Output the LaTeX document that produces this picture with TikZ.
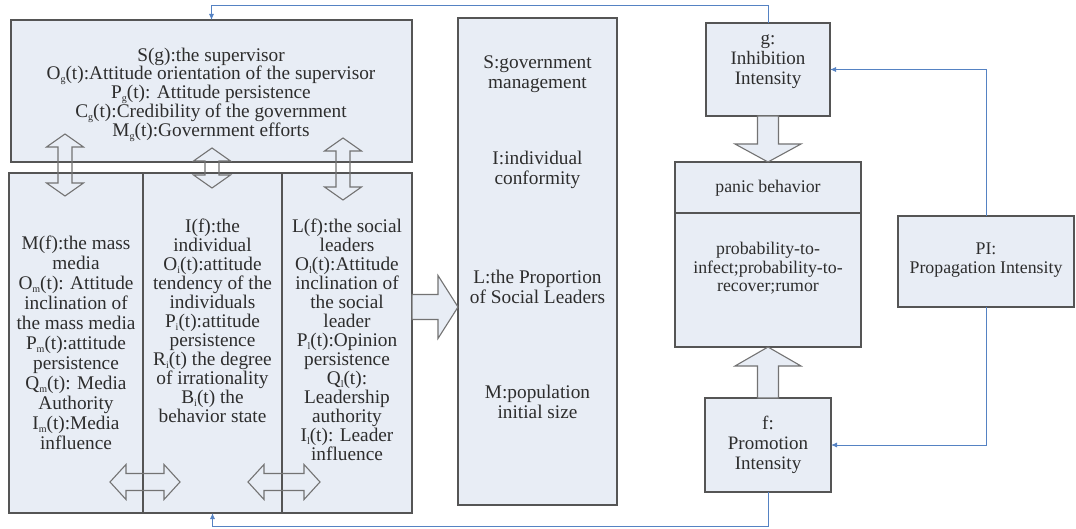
\documentclass[tikz,border=0pt]{standalone}
\usepackage{fontspec}
\setmainfont{Liberation Serif}
\usetikzlibrary{arrows.meta,calc}
\definecolor{boxfill}{RGB}{232,237,245}
\definecolor{boxline}{RGB}{85,85,85}
\definecolor{arrline}{RGB}{115,115,115}
\definecolor{connblue}{RGB}{85,130,195}
\definecolor{txtcol}{RGB}{45,45,45}
\newcommand{\sbs}[1]{\raisebox{-0.15em}{\fontsize{10}{10}\selectfont #1}}
\newcommand{\vdarr}[3]{%
  \draw[barrow] (#1-7,#2+13) -- (#1-18.5,#2+13) -- (#1,#2) -- (#1+18.5,#2+13) -- (#1+7,#2+13)
    -- (#1+7,#3-13) -- (#1+18.5,#3-13) -- (#1,#3) -- (#1-18.5,#3-13) -- (#1-7,#3-13) -- cycle;}
\newcommand{\hdarr}[3]{%
  \draw[barrow] (#1+16,#3-8.5) -- (#1+16,#3-17.5) -- (#1,#3) -- (#1+16,#3+17.5) -- (#1+16,#3+8.5)
    -- (#2-16,#3+8.5) -- (#2-16,#3+17.5) -- (#2,#3) -- (#2-16,#3-17.5) -- (#2-16,#3-8.5) -- cycle;}
\begin{document}
\lineskiplimit=-100pt
\begin{tikzpicture}[x=1pt,y=-1pt,
  box/.style={draw=boxline, fill=boxfill, line width=1.1pt, inner sep=0pt, outer sep=0pt},
  txt/.style={align=center, inner sep=0pt, text=txtcol, font=\fontsize{19.3}{19.5}\selectfont},
  txtr/.style={align=center, inner sep=0pt, text=txtcol, font=\fontsize{17.8}{18.5}\selectfont},
  barrow/.style={draw=arrline, line width=1.1pt, line join=miter},
  sarrow/.style={draw=arrline, fill=boxfill, line width=1.1pt, line join=miter},
  conn/.style={draw=connblue, line width=0.9pt, -{Latex[length=6pt,width=5pt]}}
]
\useasboundingbox (0,0) rectangle (1076,529);
\fill[white] (0,0) rectangle (1076,529);

% boxes
\node[box, minimum width=401pt, minimum height=142pt] (S) at (211.5,91) {};
\node[box, minimum width=134pt, minimum height=340pt] (col1) at (76,343) {};
\node[box, minimum width=139pt, minimum height=340pt] (col2) at (212.5,343) {};
\node[box, minimum width=130pt, minimum height=340pt] (col3) at (347,343) {};
\node[box, minimum width=159pt, minimum height=487pt] (mid) at (537.5,261.5) {};
\node[box, minimum width=124pt, minimum height=93pt] (g) at (768,69.5) {};
\node[box, minimum width=186pt, minimum height=51pt] (ptop) at (768,187.5) {};
\node[box, minimum width=186pt, minimum height=134pt] (pbot) at (768,280) {};
\node[box, minimum width=126pt, minimum height=94pt] (f) at (768,445) {};
\node[box, minimum width=176pt, minimum height=91pt] (PI) at (986,261.5) {};

% texts
\node[txt, font=\fontsize{19.3}{18.8}\selectfont] (tS) at (211,94.5) {S(g):the supervisor\\
O\sbs{g}(t):Attitude orientation of the supervisor\\
P\sbs{g}(t): Attitude persistence\\
C\sbs{g}(t):Credibility of the government\\
M\sbs{g}(t):Government efforts};
\node[txt, font=\fontsize{19.3}{20}\selectfont] (t1) at (76,343) {M(f):the mass\\ media\\ O\sbs{m}(t): Attitude\\ inclination of\\ the mass media\\ P\sbs{m}(t):attitude\\ persistence\\ Q\sbs{m}(t): Media\\ Authority\\ I\sbs{m}(t):Media\\ influence};
\node[txt, font=\fontsize{19.3}{19}\selectfont] (t2) at (212.5,320.5) {I(f):the\\ individual\\ O\sbs{i}(t):attitude\\ tendency of the\\ individuals\\ P\sbs{i}(t):attitude\\ persistence\\ R\sbs{i}(t) the degree\\ of irrationality\\ B\sbs{i}(t) the\\ behavior state};
\node[txt, font=\fontsize{19.3}{19}\selectfont] (t3) at (347,339.5) {L(f):the social\\ leaders\\ O\sbs{l}(t):Attitude\\ inclination of\\ the social\\ leader\\ P\sbs{l}(t):Opinion\\ persistence\\ Q\sbs{l}(t):\\ Leadership\\ authority\\ I\sbs{l}(t): Leader\\ influence};
\node[txt, font=\fontsize{19.3}{20}\selectfont] (m1) at (537.5,74.5) {S:government\\management};
\node[txt, font=\fontsize{19.3}{20}\selectfont] (m2) at (537.5,170) {I:individual\\conformity};
\node[txt, font=\fontsize{19.3}{20}\selectfont] (m3) at (537.5,287) {L:the Proportion\\of Social Leaders};
\node[txt, font=\fontsize{19.3}{20}\selectfont] (m4) at (537.5,402) {M:population\\initial size};
\node[txt, font=\fontsize{19}{20}\selectfont] (tg) at (768,62) {g:\\Inhibition\\Intensity};
\node[txt, font=\fontsize{19}{20}\selectfont] (tf) at (768,445) {f:\\Promotion\\Intensity};
\node[txtr] (tp1) at (768,188) {panic behavior};
\node[txtr] (tp2) at (768,268.5) {probability-to-\\infect;probability-to-\\recover;rumor};
\node[txtr] (tPI) at (986,260) {PI:\\Propagation Intensity};

% double block arrows (outline only)
\vdarr{65}{134}{196}
\vdarr{212}{148}{188}
\vdarr{343}{138}{200}
\hdarr{110}{180}{482}
\hdarr{248}{320}{482}

% single block arrows (filled)
\filldraw[sarrow] (412,294.5) -- (438,294.5) -- (438,275.5) -- (458,307) -- (438,338.5) -- (438,319.5) -- (412,319.5) -- cycle;
\filldraw[sarrow] (757.5,116) -- (757.5,144) -- (735,144) -- (768,162) -- (801,144) -- (778.5,144) -- (778.5,116) -- cycle;
\filldraw[sarrow] (757.5,398) -- (757.5,366) -- (735,366) -- (768,347) -- (801,366) -- (778.5,366) -- (778.5,398) -- cycle;

% connectors
\coordinate (topY) at (0,5);
\coordinate (botY) at (0,526);
\draw[conn] (g.north) -- (g.north |- topY) -| (S.north);
\draw[conn] (f.south) -- (f.south |- botY) -| (col2.south);
\draw[conn] (PI.north) |- (g.east);
\draw[conn] (PI.south) |- (f.east);
\end{tikzpicture}
\end{document}
